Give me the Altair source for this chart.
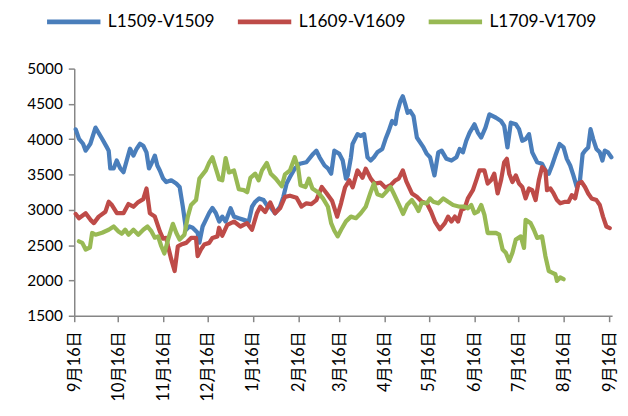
import altair as alt
import pandas as pd

# Day offsets from 9月16日 (start) and values
l1509_day = [1, 3.2, 6, 7.8, 11, 14.5, 19, 22.3, 23.5, 24.6, 26.9, 29, 31.4, 33.6, 35.8, 38.1, 40.4, 42.6, 44.9, 47.1,
             49.3, 51, 52.7, 55, 56.7, 58.4, 60.6, 62.8, 66.2, 69.6, 71.9, 74.1, 76.3, 78.6, 80.8, 84.2, 85.4, 87.6, 89.8, 92.1,
             94.3, 96.6, 98.9, 101, 103.3, 106.7, 109, 112.3, 115.7, 119.1, 121.3, 123.5, 126.2, 129.2, 131.4, 133.7, 137, 140.4, 142.7, 144.9,
             147.2, 150.5, 153.9, 158.4, 163, 165.2, 167.4, 170.8, 173.1, 175.3, 177.5, 180.9, 183.2, 185.4, 186.6, 188.8, 189.9, 193.3, 195.5, 197.8,
             200.1, 202.3, 204.5, 206.8, 210.2, 212.4, 214.6, 216.9, 219.2, 220.3, 222.5, 224.2, 225.9, 227.5, 229.3, 231.5, 233.8, 236, 238.3, 240.6,
             242.8, 245.8, 248.4, 250.7, 254, 257.4, 260.8, 263, 265.2, 267.5, 269.8, 273.1, 275.4, 277.7, 280.6, 283.3, 287.8, 291.2, 293.4, 295.6,
             297.9, 301.3, 303.5, 305.7, 308, 310.3, 312.5, 315.9, 319.2, 321.5, 323.8, 326, 328.3, 331.2, 333.9, 336.1, 338.4, 340.6, 342.9, 345.1,
             346.9, 348.5, 350.7, 352.3, 354.1, 356.3, 358.6, 360.4, 362, 364.2, 366.5]
l1509_val = [4140, 4006, 3936, 3838, 3936, 4164, 4006, 3884, 3838, 3586, 3586, 3698, 3586, 3534, 3698, 3866, 3768, 3866, 3936, 3908,
             3814, 3586, 3656, 3768, 3628, 3558, 3446, 3394, 3418, 3372, 3324, 3044, 2718, 2764, 2746, 2676, 2536, 2764, 2858, 2956,
             3026, 2956, 2834, 2904, 2834, 3022, 2904, 2882, 2858, 2834, 3044, 3114, 3162, 3138, 3068, 3044, 2952, 3044, 3184, 3372,
             3464, 3586, 3652, 3674, 3792, 3838, 3744, 3628, 3586, 3512, 3838, 3792, 3698, 3442, 3488, 3744, 3932, 4072, 4048, 4072,
             3744, 3698, 3744, 3814, 3862, 4002, 4118, 4258, 4216, 4374, 4538, 4608, 4492, 4374, 4398, 4328, 4024, 3954, 3884, 3792,
             3744, 3488, 3814, 3838, 3722, 3698, 3744, 3862, 3814, 3978, 4094, 4212, 4094, 4024, 4164, 4352, 4304, 4258, 4188, 3884,
             4234, 4212, 4142, 3978, 4002, 4072, 3814, 3674, 3652, 3558, 3512, 3628, 3768, 3932, 3884, 3722, 3628, 3488, 3324, 3418,
             3792, 3838, 3884, 4142, 4002, 3862, 3814, 3698, 3838, 3814, 3744]

l1609_day = [1, 3.2, 7.8, 11.1, 13.4, 16.7, 21.3, 23.5, 25.7, 29.1, 33.6, 37, 40.4, 43.7, 47.1, 49.3, 51.6, 55, 58.4, 60.6,
             62.8, 64, 66.2, 68.5, 70.7, 72.9, 76.3, 79.7, 83.1, 84.2, 86.4, 88.7, 92.1, 94.3, 97.7, 98.8, 101, 104.4, 109, 113.4,
             117.9, 121.3, 124.7, 126.9, 130.3, 133.7, 137, 140.4, 143.8, 147.2, 151.7, 155.1, 158.4, 161.8, 165.2, 168.9, 172.3, 176, 179.4, 182.1,
             184.8, 187.7, 190, 193.3, 196.7, 198.9, 202.3, 205, 209, 212.4, 215.8, 219.2, 221.4, 224.2, 226.6, 230.4, 233.8, 237.2, 240.6, 243.5,
             246.2, 249.5, 252.9, 255.1, 257.4, 259.7, 261.9, 264.2, 266.4, 268.6, 272, 274.3, 276.5, 279.9, 282.1, 284.4, 286.6, 288.9, 291.2, 293.4,
             295.2, 296.8, 299, 301.3, 303.5, 305.7, 308, 310.3, 312.5, 314.8, 317, 319.2, 321.5, 322.6, 324.9, 327.1, 329.4, 331.6, 335, 337.3,
             339.5, 341.8, 344, 346.2, 348.5, 350.7, 353, 356.3, 358.6, 360.8, 363.1, 365.4]
l1609_val = [2942, 2882, 2952, 2858, 2812, 2904, 2974, 3114, 3068, 2952, 2952, 3082, 3044, 3110, 3152, 3302, 2952, 2904, 2694, 2592,
             2602, 2484, 2298, 2134, 2484, 2508, 2532, 2602, 2602, 2344, 2438, 2508, 2532, 2602, 2624, 2746, 2634, 2788, 2834, 2764,
             2812, 2718, 2956, 3044, 2970, 3104, 2952, 3022, 3184, 3200, 3172, 3046, 3092, 3082, 3138, 3324, 3232, 3124, 2904, 3096,
             3320, 3418, 3320, 3558, 3454, 3582, 3442, 3372, 3384, 3314, 3348, 3418, 3442, 3558, 3404, 3232, 3184, 3114, 3092, 2974,
             2830, 2725, 2812, 2904, 2834, 2904, 2834, 2998, 3022, 3162, 3278, 3418, 3558, 3558, 3372, 3418, 3512, 3232, 3418, 3674,
             3722, 3512, 3394, 3488, 3372, 3324, 3162, 3302, 3278, 3138, 3418, 3604, 3558, 3278, 3302, 3232, 3138, 3092, 3114, 3114,
             3208, 3162, 3372, 3394, 3324, 3232, 3162, 3138, 3068, 2904, 2764, 2742]

l1709_day = [3.2, 5.5, 7.8, 10.7, 12.2, 14.5, 19, 23.5, 26.9, 30.2, 32.5, 34.8, 37, 40.4, 43.7, 47.1, 50, 52.7, 55, 57.2,
             59.4, 61.5, 64, 67.3, 69.6, 71.9, 75.2, 77.5, 79.7, 83.1, 85.4, 89.8, 92.1, 94.3, 96.6, 98.9, 101, 103.3, 105.6, 109,
             112.3, 115.7, 118, 120.2, 123.5, 125.8, 128.1, 131.4, 134.1, 137.5, 141.6, 143.8, 147.2, 150.5, 152.8, 154.4, 157.8, 160.1, 162.5, 166.3,
             169.7, 173.1, 175.3, 177.5, 179.8, 182.1, 185.4, 188.8, 192.2, 195.5, 198.9, 202.3, 204.5, 206.8, 210.2, 212.4, 215.8, 218, 221.4, 224.4,
             227.1, 230.4, 232.7, 234.9, 237.2, 240.6, 242.8, 245, 248.4, 251.8, 255.1, 258.5, 263, 266.4, 268.6, 270.9, 273.1, 275.4, 277.7, 279.9,
             282.1, 284.4, 287.8, 290, 292.3, 294.5, 296.8, 299, 301.3, 304.7, 306.9, 308, 311.4, 313.6, 315.9, 319.2, 321.5, 323.8, 326, 328.3,
             329.4, 331.6, 333.9]
l1709_val = [2554, 2532, 2438, 2466, 2672, 2648, 2676, 2718, 2764, 2694, 2662, 2718, 2648, 2718, 2648, 2718, 2764, 2694, 2606, 2624,
             2484, 2382, 2578, 2802, 2676, 2578, 2648, 2904, 3068, 3138, 3442, 3558, 3670, 3744, 3586, 3432, 3418, 3733, 3530, 3558,
             3292, 3278, 3250, 3453, 3512, 3418, 3558, 3663, 3512, 3442, 3334, 3502, 3558, 3744, 3593, 3348, 3324, 3442, 3302, 3250,
             3162, 3044, 2812, 2704, 2624, 2718, 2837, 2904, 2882, 2952, 3044, 3254, 3372, 3222, 3194, 3243, 3324, 3232, 3082, 2942,
             3068, 3138, 3068, 2984, 3103, 3092, 3162, 3114, 3092, 3162, 3114, 3068, 3044, 3044, 3022, 3068, 2952, 2974, 3068, 2928,
             2672, 2672, 2672, 2648, 2438, 2392, 2274, 2392, 2578, 2624, 2462, 2858, 2812, 2718, 2602, 2624, 2344, 2134, 2112, 2088,
             1994, 2042, 2018]

series_names = ["L1509-V1509", "L1609-V1609", "L1709-V1709"]
series_colors = ["#4A7EBB", "#BE4B48", "#98B954"]
y_ticks = [1500, 2000, 2500, 3000, 3500, 4000, 4500, 5000]
tick_dates = ["2014-09-16", "2014-10-16", "2014-11-16", "2014-12-16", "2015-01-16", "2015-02-16", "2015-03-16",
              "2015-04-16", "2015-05-16", "2015-06-16", "2015-07-16", "2015-08-16", "2015-09-16"]
domain_dates = ["2014-09-16", "2015-09-18"]

base = pd.Timestamp("2014-09-16")
epoch = pd.Timestamp("1970-01-01")


def to_ms(ts):
    return int((ts - epoch) / pd.Timedelta(milliseconds=1))


frames = []
for name, days, vals in zip(series_names,
                            [l1509_day, l1609_day, l1709_day],
                            [l1509_val, l1609_val, l1709_val]):
    frames.append(pd.DataFrame({
        "t": [to_ms(base + pd.Timedelta(days=d)) for d in days],
        "value": vals,
        "series": name,
    }))
df = pd.concat(frames, ignore_index=True)

tick_ms = [to_ms(pd.Timestamp(d)) for d in tick_dates]
dom_ms = [to_ms(pd.Timestamp(d)) for d in domain_dates]

axis_gray = "#868686"
font = "Lato, 'Noto Sans CJK SC', sans-serif"

chart = alt.Chart(df).mark_line(strokeWidth=4.3, strokeCap="round", strokeJoin="round").encode(
    x=alt.X("t:T",
            scale=alt.Scale(type="utc", domain=dom_ms),
            axis=alt.Axis(values=tick_ms, labelExpr="utcFormat(datum.value, '%-m月%-d日')", labelAngle=270,
                          title=None, grid=False, tickSize=6, tickColor=axis_gray, domainColor=axis_gray,
                          domainWidth=1.5, tickWidth=1.5, labelFont=font, labelFontSize=16.5,
                          labelColor="#000000", labelPadding=9, labelOverlap=False, labelFlush=False)),
    y=alt.Y("value:Q",
            scale=alt.Scale(domain=[1500, 5000], nice=False, zero=False),
            axis=alt.Axis(values=y_ticks, format="d", title=None, grid=False, tickSize=6, tickColor=axis_gray,
                          domainColor=axis_gray, domainWidth=1.5, tickWidth=1.5, labelFont=font,
                          labelFontSize=15.5, labelColor="#000000", labelPadding=6)),
    color=alt.Color("series:N",
                    scale=alt.Scale(domain=series_names, range=series_colors),
                    legend=alt.Legend(title=None, orient="none", legendX=-30, legendY=-77,
                                      direction="horizontal", symbolType="stroke", symbolSize=2916,
                                      symbolStrokeWidth=5, labelFont=font, labelFontSize=17.5,
                                      labelColor="#000000", labelOffset=5, columnPadding=13, padding=0)),
    order=alt.Order("t:Q"),
).properties(
    width=544,
    height=250,
    autosize=alt.AutoSizeParams(type="none"),
    padding={"left": 67, "top": 59, "right": 8, "bottom": 91},
).configure_view(stroke=None)

chart.save("out.html", embed_options={"renderer": "svg", "actions": False})
